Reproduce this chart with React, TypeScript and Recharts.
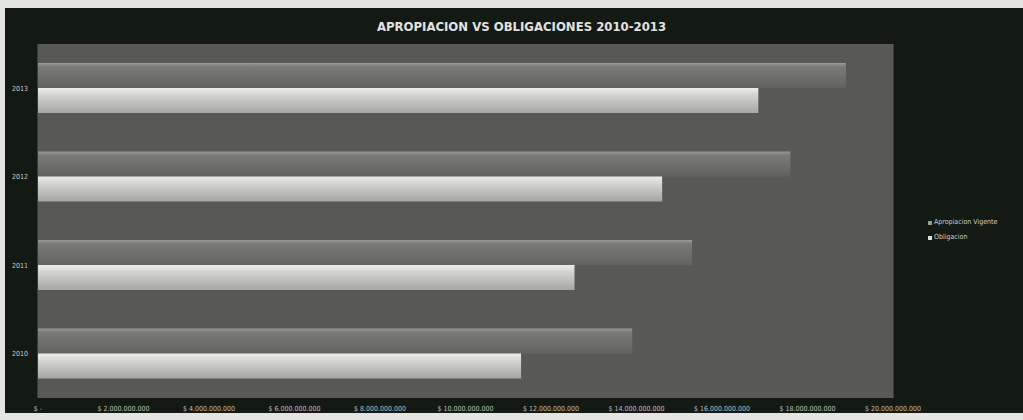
import { BarChart, Bar, XAxis, YAxis, CartesianGrid } from "recharts";

const years = ["2013", "2012", "2011", "2010"];
const apropiacionVigente = [18900000000, 17600000000, 15300000000, 13900000000];
const obligacion = [16850000000, 14600000000, 12550000000, 11300000000];
const xTicks = [0, 2e9, 4e9, 6e9, 8e9, 10e9, 12e9, 14e9, 16e9, 18e9, 20e9];
const seriesNames = ["Apropiacion Vigente", "Obligacion"];

const data = years.map((year, i) => ({
  year,
  apropiacion: apropiacionVigente[i],
  obligacion: obligacion[i],
}));

const formatPesos = (v: number) =>
  v === 0 ? "$ -" : "$ " + String(Math.round(v)).replace(/\B(?=(\d{3})+(?!\d))/g, ".");

const fontStack = '"Liberation Sans Narrow", "DejaVu Sans Condensed", "Liberation Sans", sans-serif';

function LegendBox() {
  const colors = ["#9a9a98", "#dcdcda"];
  return (
    <div
      style={{
        position: "absolute",
        left: 928,
        top: 215,
        fontFamily: fontStack,
        fontSize: 7,
        color: "#cfcfcd",
        lineHeight: "15px",
      }}
    >
      {seriesNames.map((label, i) => (
        <div key={label} style={{ display: "flex", alignItems: "center", whiteSpace: "nowrap" }}>
          <span style={{ width: 4, height: 4, background: colors[i], marginRight: 2, display: "inline-block" }} />
          {label}
        </div>
      ))}
    </div>
  );
}

export default function App() {
  return (
    <div style={{ position: "absolute", left: 0, top: 0, width: 1023, height: 420, background: "#e4e4e2", overflow: "hidden" }}>
      <div style={{ position: "absolute", left: 5, top: 8, width: 1018, height: 405, background: "#131913" }} />
      <div
        style={{
          position: "absolute",
          left: 0,
          top: 19,
          width: 1043,
          textAlign: "center",
          fontFamily: fontStack,
          fontWeight: "bold",
          fontSize: 13,
          color: "#e2e2e0",
        }}
      >
        APROPIACION VS OBLIGACIONES 2010-2013
      </div>
      <div style={{ position: "absolute", left: 0, top: 0 }}>
        <BarChart
          width={1023}
          height={420}
          data={data}
          layout="vertical"
          margin={{ top: 44, right: 130, bottom: 0, left: 8 }}
          barSize={25}
          barGap={0}
        >
          <defs>
            <linearGradient id="gDark" x1="0" y1="0" x2="0" y2="1">
              <stop offset="0%" stopColor="#9a9a98" />
              <stop offset="15%" stopColor="#7a7a78" />
              <stop offset="100%" stopColor="#626260" />
            </linearGradient>
            <linearGradient id="gLight" x1="0" y1="0" x2="0" y2="1">
              <stop offset="0%" stopColor="#ececea" />
              <stop offset="30%" stopColor="#d2d2d0" />
              <stop offset="100%" stopColor="#a6a6a4" />
            </linearGradient>
          </defs>
          <rect x={38} y={44} width={855} height={354} fill="#585856" />
          <CartesianGrid horizontal={false} stroke="#60605e" />
          <XAxis
            type="number"
            domain={[0, 20e9]}
            ticks={xTicks}
            tickFormatter={formatPesos}
            interval={0}
            axisLine={false}
            tickLine={false}
            tickSize={0}
            tickMargin={8}
            height={22}
            tick={{ fontSize: 7, fill: "#bdbdbb", fontFamily: fontStack }}
          />
          <YAxis
            type="category"
            dataKey="year"
            width={30}
            axisLine={false}
            tickLine={false}
            tickSize={0}
            tickMargin={10}
            tick={{ fontSize: 7, fill: "#cfcfcd", fontFamily: fontStack }}
          />
          <Bar dataKey="apropiacion" name={seriesNames[0]} fill="url(#gDark)" isAnimationActive={false} />
          <Bar dataKey="obligacion" name={seriesNames[1]} fill="url(#gLight)" isAnimationActive={false} />
        </BarChart>
      </div>
      <LegendBox />
    </div>
  );
}
